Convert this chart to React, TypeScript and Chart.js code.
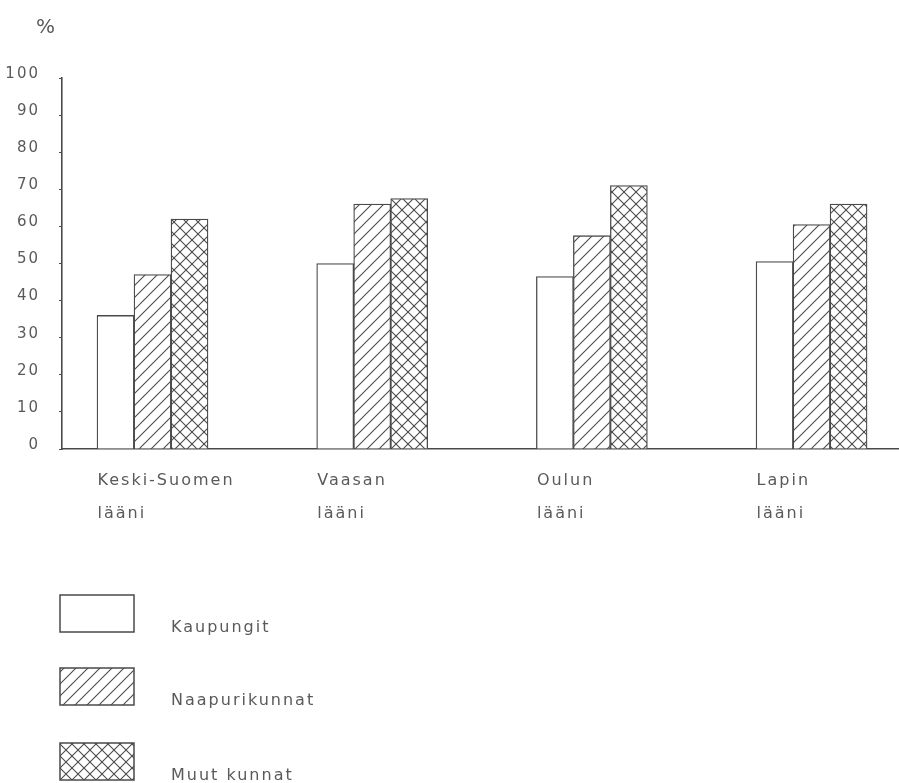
import React, { useEffect, useRef } from "react";
import { Chart, registerables } from "chart.js";

Chart.register(...registerables);

const CATEGORIES = ["Keski-Suomen", "Vaasan", "Oulun", "Lapin"];
const CATEGORY_SUFFIX = "lääni";
const SERIES_NAMES = ["Kaupungit", "Naapurikunnat", "Muut kunnat"];
const KAUPUNGIT = [36, 50, 46.5, 50.5];
const NAAPURIKUNNAT = [47, 66, 57.5, 60.5];
const MUUT_KUNNAT = [62, 67.5, 71, 66];
const Y_TICKS = [0, 10, 20, 30, 40, 50, 60, 70, 80, 90, 100];
const UNIT_LABEL = "%";

const W = 899;
const H = 783;
const INK = "#4a4a4a";
const TEXT = "#5a5a5a";
const FONT = "DejaVu Sans";

function makePattern(kind: "none" | "diag" | "cross"): CanvasPattern | string {
  if (kind === "none") return "#ffffff";
  const s = 12;
  const c = document.createElement("canvas");
  c.width = s;
  c.height = s;
  const g = c.getContext("2d")!;
  g.fillStyle = "#ffffff";
  g.fillRect(0, 0, s, s);
  g.strokeStyle = INK;
  g.lineWidth = 1.1;
  const line = (x1: number, y1: number, x2: number, y2: number) => {
    g.beginPath();
    g.moveTo(x1, y1);
    g.lineTo(x2, y2);
    g.stroke();
  };
  line(-2, s + 2, s + 2, -2);
  line(-2, 2, 2, -2);
  line(s - 2, s + 2, s + 2, s - 2);
  if (kind === "cross") {
    line(-2, -2, s + 2, s + 2);
    line(s - 2, -2, s + 2, 2);
    line(-2, s - 2, 2, s + 2);
  }
  return g.createPattern(c, "repeat")!;
}

export default function App() {
  const ref = useRef<HTMLCanvasElement | null>(null);

  useEffect(() => {
    const canvas = ref.current!;
    const fills = [makePattern("none"), makePattern("diag"), makePattern("cross")];
    const seriesValues = [KAUPUNGIT, NAAPURIKUNNAT, MUUT_KUNNAT];

    const spacingPlugin = {
      id: "spacing",
      beforeLayout(chart: any) {
        chart.ctx.letterSpacing = "2px";
      },
      beforeDraw(chart: any) {
        chart.ctx.letterSpacing = "2px";
      },
      afterDraw(chart: any) {
        const ctx = chart.ctx as CanvasRenderingContext2D;
        ctx.save();
        ctx.letterSpacing = "2px";
        ctx.fillStyle = TEXT;
        ctx.font = `20px "${FONT}"`;
        ctx.textAlign = "left";
        ctx.textBaseline = "middle";
        ctx.fillText(UNIT_LABEL, 36, 28);
        const boxX = 60;
        const boxW = 74;
        const boxH = 37;
        const boxYs = [595, 668, 743];
        chart.data.datasets.forEach((ds: any, i: number) => {
          const y = boxYs[i];
          ctx.fillStyle = ds.backgroundColor;
          ctx.fillRect(boxX, y, boxW, boxH);
          ctx.strokeStyle = INK;
          ctx.lineWidth = 1.5;
          ctx.strokeRect(boxX, y, boxW, boxH);
          ctx.fillStyle = TEXT;
          ctx.font = `16px "${FONT}"`;
          ctx.textBaseline = "alphabetic";
          ctx.fillText(ds.label, 171, y + boxH);
        });
        ctx.restore();
      },
    };

    const chart = new Chart(canvas, {
      type: "bar",
      data: {
        datasets: SERIES_NAMES.map((name, si) => ({
          label: name,
          data: seriesValues[si].map((v, i) => ({ x: i, y: v })),
          backgroundColor: fills[si] as any,
          borderColor: INK,
          borderWidth: 1.3,
          barThickness: 37,
        })),
      },
      options: {
        animation: false,
        responsive: false,
        layout: { padding: { top: 78, left: 0, right: 0, bottom: 0 } },
        plugins: {
          legend: { display: false },
          tooltip: { enabled: false },
        },
        scales: {
          x: {
            type: "linear",
            offset: false,
            min: -0.412,
            max: 3.398,
            grid: { display: false, drawTicks: false, offset: false },
            border: { display: true, color: INK, width: 1.6 },
            afterBuildTicks(scale: any) {
              scale.ticks = CATEGORIES.map((_, i) => ({ value: i }));
            },
            afterFit(scale: any) {
              scale.height = H - 449;
            },
            ticks: {
              align: "start",
              labelOffset: -55,
              padding: 15,
              color: TEXT,
              font: { family: FONT, size: 16, lineHeight: 33 / 16 },
              maxRotation: 0,
              autoSkip: false,
              callback: (value: any) => [CATEGORIES[Math.round(value)], CATEGORY_SUFFIX],
            },
          },
          y: {
            min: 0,
            max: 100,
            afterBuildTicks(scale: any) {
              scale.ticks = Y_TICKS.map((v) => ({ value: v }));
            },
            afterFit(scale: any) {
              scale.width = 62;
            },
            grid: {
              display: true,
              drawOnChartArea: false,
              drawTicks: true,
              tickLength: 3,
              color: INK,
            },
            border: { display: true, color: INK, width: 1.6 },
            ticks: {
              padding: 19,
              labelOffset: -4,
              color: TEXT,
              font: { family: FONT, size: 15 },
            },
          },
        },
      },
      plugins: [spacingPlugin],
    });

    return () => chart.destroy();
  }, []);

  return (
    <div style={{ position: "absolute", left: 0, top: 0, width: W, height: H, background: "#fff" }}>
      <canvas ref={ref} width={W} height={H} style={{ display: "block" }} />
    </div>
  );
}
